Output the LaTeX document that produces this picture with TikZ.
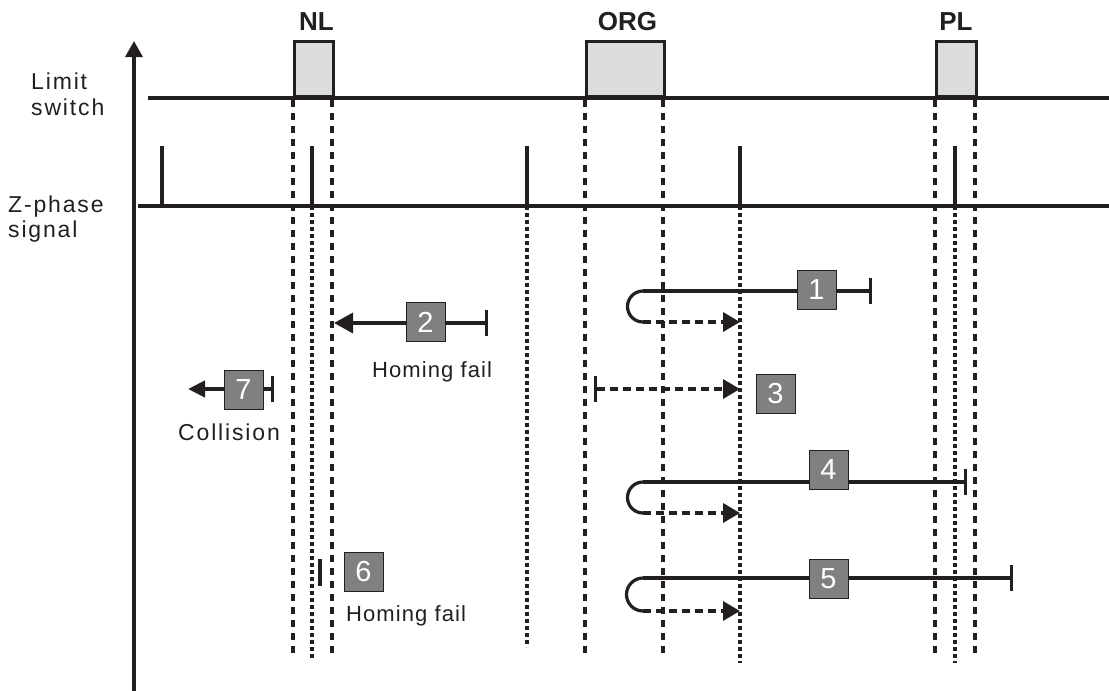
\documentclass[tikz,border=0pt]{standalone}
\usepackage{fontspec}
\setmainfont{Liberation Sans}
\newfontfamily\lblfont[LetterSpace=8]{Liberation Sans}
\newfontfamily\hffont[LetterSpace=5]{Liberation Sans}
\usetikzlibrary{arrows.meta}
\definecolor{ink}{HTML}{231F20}
\definecolor{boxgray}{HTML}{808080}
\definecolor{swgray}{HTML}{DCDCDC}
\begin{document}
\begin{tikzpicture}[x=1pt,y=-1pt,
  solidln/.style={draw=ink, line width=3.2pt},
  swbox/.style={draw=ink, fill=swgray, line width=3pt, inner sep=0, minimum height=55pt, anchor=south west},
  edgedash/.style={draw=ink, line width=3.2pt, dash pattern=on 7pt off 6pt},
  zdash/.style={draw=ink, line width=3.2pt, dash pattern=on 4pt off 3pt},
  rowdash/.style={draw=ink, line width=3.4pt, dash pattern=on 8pt off 5pt},
  tri/.style={-{Triangle[length=17pt,width=19pt]}},
  numbox/.style={draw=ink, line width=1pt, fill=boxgray, minimum size=39pt, inner sep=0, text=white, font=\fontsize{29}{29}\selectfont},
  lbl/.style={text=ink, inner sep=0, anchor=base west, font=\lblfont\fontsize{23}{25}\selectfont},
  hf/.style={text=ink, inner sep=0, anchor=base west, font=\hffont\fontsize{22}{24}\selectfont},
  hd/.style={text=ink, inner sep=0, anchor=base, font=\bfseries\fontsize{26}{28}\selectfont}
]
\useasboundingbox (0,0) rectangle (1109,691);
% axis
\coordinate (axb) at (134,691);
\coordinate (axt) at (134,41);
\draw[solidln, -{Triangle[length=16pt,width=17pt]}] (axb) -- (axt);
% labels
\node[lbl] (lim) at (31,89) {Limit};
\node[lbl] (sw) at (31,115) {switch};
\node[lbl] (zph) at (8,212) {Z-phase};
\node[lbl] (sig) at (8,237) {signal};
% limit switch boxes
\node[swbox, minimum width=39pt] (nl) at (293,98) {};
\node[swbox, minimum width=78pt] (org) at (585,98) {};
\node[swbox, minimum width=40pt] (pl) at (935,98) {};
\node[hd] (nlt) at (316.5,30) {NL};
\node[hd] (orgt) at (627.5,30) {ORG};
\node[hd] (plt) at (956,30) {PL};
\coordinate (ls0) at (148,98);
\coordinate (ls1) at (1109,98);
\draw[solidln] (ls0) -- (ls1);
% z phase
\coordinate (z0) at (138,206);
\coordinate (z1) at (1109,206);
\draw[solidln] (z0) -- (z1);
\foreach \n/\x in {a/162,b/312,c/527,d/740,e/955}{
  \coordinate (p\n) at (\x,206);
  \coordinate (q\n) at (\x,146);
  \draw[solidln] (p\n) -- (q\n);
}
% dashed verticals from switch edges
\foreach \n/\x in {a/293,b/332,c/585,d/663,e/935,f/975}{
  \coordinate (e\n) at (\x,100);
  \coordinate (f\n) at (\x,658);
  \draw[edgedash] (e\n) -- (f\n);
}
% dashed verticals from z pulses
\coordinate (gb) at (312,658);
\coordinate (gc) at (527,647);
\coordinate (gd) at (740,663);
\coordinate (ge) at (955,663);
\draw[zdash] (pb) -- (gb);
\draw[zdash] (pc) -- (gc);
\draw[zdash] (pd) -- (gd);
\draw[zdash] (pe) -- (ge);
% row 1
\coordinate (r1a) at (643,291);
\coordinate (r1b) at (872,291);
\coordinate (r1c) at (643,322);
\coordinate (r1d) at (740,322);
\draw[solidln, -{Bar[width=26pt]}] (r1a) -- (r1b);
\draw[solidln] (r1a) arc (270:90:15.5);
\draw[rowdash, tri] (r1c) -- (r1d);
\node[numbox] (n1) at (816.5,289.5) {1};
% row 2
\coordinate (r2a) at (488,323);
\coordinate (r2b) at (334,323);
\draw[solidln, {Bar[width=26pt]}-{Triangle[length=19pt,width=20pt]}] (r2a) -- (r2b);
\node[numbox] (n2) at (425.5,322) {2};
\node[hf] (hf2) at (372,377) {Homing fail};
% row 3
\coordinate (r3a) at (594,389);
\coordinate (r3b) at (740,389);
\draw[rowdash, {Bar[width=26pt]}-{Triangle[length=17pt,width=19pt]}] (r3a) -- (r3b);
\node[numbox] (n3) at (775.5,393.5) {3};
% row 7
\coordinate (r7a) at (274,389);
\coordinate (r7b) at (188,389);
\draw[solidln, line width=4pt, {Bar[width=26pt,line width=3pt]}-{Triangle[length=17pt,width=16pt]}] (r7a) -- (r7b);
\node[numbox] (n7) at (243.5,389.5) {7};
\node[lbl] (col) at (178,440) {Collision};
% row 4
\coordinate (r4a) at (643,482);
\coordinate (r4b) at (967,482);
\coordinate (r4c) at (643,513);
\coordinate (r4d) at (740,513);
\draw[solidln, -{Bar[width=26pt]}] (r4a) -- (r4b);
\draw[solidln] (r4a) arc (270:90:15.5);
\draw[rowdash, tri] (r4c) -- (r4d);
\node[numbox] (n4) at (828.5,469.5) {4};
% row 5
\coordinate (r5a) at (643,578);
\coordinate (r5b) at (1013,578);
\coordinate (r5c) at (643,611);
\coordinate (r5d) at (740,611);
\draw[solidln, -{Bar[width=26pt]}] (r5a) -- (r5b);
\draw[solidln] (r5a) arc (270:90:16.5);
\draw[rowdash, tri] (r5c) -- (r5d);
\node[numbox] (n5) at (828.5,578.5) {5};
% row 6
\coordinate (r6a) at (320,559);
\coordinate (r6b) at (320,586);
\draw[solidln] (r6a) -- (r6b);
\node[numbox] (n6) at (363.5,571.5) {6};
\node[hf] (hf6) at (346,621) {Homing fail};
\end{tikzpicture}
\end{document}
